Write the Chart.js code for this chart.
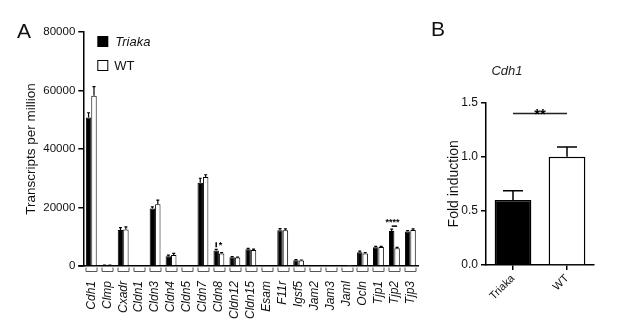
<!DOCTYPE html>
<html>
<head>
<meta charset="utf-8">
<script src="https://cdn.jsdelivr.net/npm/chart.js@4"></script>
<style>
  body { margin: 0; background: #fff; }
  #wrap { position: relative; width: 617px; height: 321px; overflow: hidden; }
  canvas { position: absolute; top: 0; }
  #a { left: 0; }
  #b { left: 420px; }
  .panel { position: absolute; font: 21px "Liberation Sans", Arial, sans-serif; color: #111; line-height: 1; }
</style>
</head>
<body>
<div id="wrap">
  <canvas id="a" width="440" height="321"></canvas>
  <canvas id="b" width="197" height="321"></canvas>
  <div class="panel" style="left:17px;top:20px">A</div>
  <div class="panel" style="left:431px;top:18px">B</div>
</div>
<script>
// panel A: transcripts per million
const CATEGORIES = ['Cdh1', 'Clmp', 'Cxadr', 'Cldn1', 'Cldn3', 'Cldn4', 'Cldn5', 'Cldn7', 'Cldn8', 'Cldn12',
  'Cldn15', 'Esam', 'F11r', 'Igsf5', 'Jam2', 'Jam3', 'Jaml', 'Ocln', 'Tjp1', 'Tjp2', 'Tjp3'];
const TRIAKA_TPM = [50800, 250, 12300, 0, 19700, 3300, 0, 28500, 5300, 3000, 5700, 0, 12200, 2000, 0, 0, 100, 4700, 6400, 12000, 11800];
const TRIAKA_SEM = [1600, 50, 800, 0, 500, 400, 0, 1500, 400, 200, 300, 0, 600, 200, 0, 0, 0, 400, 300, 600, 300];
const WT_TPM = [58200, 300, 12500, 0, 21100, 3800, 0, 30400, 4300, 2900, 5500, 0, 12200, 1900, 0, 0, 100, 4300, 6500, 6100, 12300];
const WT_SEM = [3100, 50, 900, 0, 1400, 500, 0, 800, 300, 150, 300, 0, 500, 150, 0, 0, 0, 300, 200, 300, 400];
const TPM_TICKS = [0, 20000, 40000, 60000, 80000];
const STARS_A = [{ cat: 'Cldn8', text: '*' }, { cat: 'Tjp2', text: '****' }];

// panel B: Cdh1 fold induction
const GROUPS = ['Triaka', 'WT'];
const FOLD = [0.6, 1.0];
const FOLD_SEM = [0.085, 0.09];
const FOLD_TICKS = [0, 0.5, 1.0, 1.5];

const FONT = '"Liberation Sans", Arial, sans-serif';
Chart.defaults.font.family = FONT;
Chart.defaults.color = '#111';

const errorBars = {
  id: 'errorBars',
  afterDatasetsDraw(chart, args, opts) {
    const ctx = chart.ctx, y = chart.scales.y;
    chart.data.datasets.forEach((ds, di) => {
      chart.getDatasetMeta(di).data.forEach((bar, i) => {
        const err = ds.errors[i];
        if (!err) return;
        const top = y.getPixelForValue(ds.data[i] + err);
        ctx.save();
        ctx.strokeStyle = '#000';
        ctx.lineWidth = opts.width;
        ctx.beginPath();
        ctx.moveTo(bar.x, bar.y);
        ctx.lineTo(bar.x, top);
        ctx.moveTo(bar.x - opts.cap, top);
        ctx.lineTo(bar.x + opts.cap, top);
        ctx.stroke();
        ctx.restore();
      });
    });
  }
};

const panelA = {
  id: 'panelA',
  afterDraw(chart) {
    const { ctx, chartArea: area, scales: { x, y } } = chart;
    ctx.save();
    // x axis runs a little past the y axis
    ctx.strokeStyle = '#000';
    ctx.lineWidth = 1.5;
    ctx.beginPath();
    ctx.moveTo(area.left - 5, area.bottom);
    ctx.lineTo(area.left, area.bottom);
    ctx.stroke();
    // bracket marks under each gene
    ctx.strokeStyle = '#555';
    ctx.lineWidth = 1;
    CATEGORIES.forEach((c, i) => {
      const cx = Math.round(x.getPixelForValue(i)) + 0.5;
      ctx.beginPath();
      ctx.moveTo(cx - 5.5, area.bottom + 1.5);
      ctx.lineTo(cx - 5.5, area.bottom + 5.5);
      ctx.lineTo(cx + 5.5, area.bottom + 5.5);
      ctx.lineTo(cx + 5.5, area.bottom + 1.5);
      ctx.stroke();
    });
    // significance
    const m0 = chart.getDatasetMeta(0), m1 = chart.getDatasetMeta(1);
    ctx.fillStyle = '#000';
    ctx.strokeStyle = '#000';
    ctx.lineWidth = 1.5;
    ctx.font = 'bold 9px ' + FONT;
    ctx.textAlign = 'center';
    ctx.textBaseline = 'alphabetic';
    STARS_A.forEach(s => {
      const i = CATEGORIES.indexOf(s.cat);
      const b0 = m0.data[i], b1 = m1.data[i];
      const top = Math.min(y.getPixelForValue(TRIAKA_TPM[i] + TRIAKA_SEM[i]), y.getPixelForValue(WT_TPM[i] + WT_SEM[i]));
      if (s.text.length > 1) {
        const ly = top - 3;
        ctx.beginPath();
        ctx.moveTo(b0.x, ly);
        ctx.lineTo(b1.x, ly);
        ctx.stroke();
        ctx.fillText(s.text, (b0.x + b1.x) / 2 - 2, ly - 1);
      } else {
        ctx.beginPath();
        ctx.moveTo(b0.x, top - 2);
        ctx.lineTo(b0.x, top - 7);
        ctx.stroke();
        ctx.fillText(s.text, b1.x - 1, top - 1);
      }
    });
    // legend
    const lx = area.left + 14, ly = area.top + 4;
    ctx.fillStyle = '#000';
    ctx.fillRect(lx, ly, 11, 11);
    ctx.fillStyle = '#fff';
    ctx.fillRect(lx + 0.5, ly + 24.5, 10, 10);
    ctx.lineWidth = 1;
    ctx.strokeRect(lx + 0.5, ly + 24.5, 10, 10);
    ctx.fillStyle = '#111';
    ctx.textAlign = 'left';
    ctx.textBaseline = 'middle';
    ctx.font = 'italic 13px ' + FONT;
    ctx.fillText('Triaka', lx + 18, ly + 6);
    ctx.font = '13px ' + FONT;
    ctx.fillText('WT', lx + 17, ly + 30);
    ctx.restore();
  }
};

new Chart(document.getElementById('a').getContext('2d'), {
  type: 'bar',
  data: {
    labels: CATEGORIES,
    datasets: [
      { label: 'Triaka', data: TRIAKA_TPM, errors: TRIAKA_SEM, backgroundColor: '#000', borderColor: '#000', borderWidth: 1 },
      { label: 'WT', data: WT_TPM, errors: WT_SEM, backgroundColor: '#fff', borderColor: '#000', borderWidth: 1 }
    ]
  },
  options: {
    responsive: false,
    animation: false,
    layout: { padding: { left: 0, top: 32, right: 10.5, bottom: 0 } },
    datasets: { bar: { categoryPercentage: 0.68, barPercentage: 1 } },
    plugins: {
      legend: { display: false },
      tooltip: { enabled: false },
      errorBars: { width: 1.2, cap: 1.5 }
    },
    scales: {
      x: {
        grid: { display: true, drawOnChartArea: false, drawTicks: false },
        border: { color: '#000', width: 1.5 },
        ticks: { autoSkip: false, minRotation: 90, maxRotation: 90, padding: 15, font: { size: 12, style: 'italic' } },
        afterFit(s) { s.height = 55; }
      },
      y: {
        min: 0,
        max: 80000,
        afterBuildTicks(s) { s.ticks = TPM_TICKS.map(v => ({ value: v })); },
        grid: { drawOnChartArea: false, tickLength: 5, color: '#000', lineWidth: 1.5 },
        border: { color: '#000', width: 1.5 },
        ticks: { padding: 3, font: { size: 11.5 }, callback: v => String(v) },
        title: { display: true, text: 'Transcripts per million', font: { size: 13.5 }, padding: { top: 23, bottom: 0 } },
        afterFit(s) { s.width = 83.3; }
      }
    }
  },
  plugins: [errorBars, panelA]
});

const panelB = {
  id: 'panelB',
  afterDraw(chart) {
    const { ctx, scales: { y } } = chart;
    const bars = chart.getDatasetMeta(0).data;
    const ly = y.getPixelForValue(1.4);
    ctx.save();
    ctx.strokeStyle = '#222';
    ctx.lineWidth = 1.5;
    ctx.beginPath();
    ctx.moveTo(bars[0].x, ly);
    ctx.lineTo(bars[1].x, ly);
    ctx.stroke();
    ctx.fillStyle = '#000';
    ctx.font = 'bold 15px ' + FONT;
    ctx.textAlign = 'center';
    ctx.textBaseline = 'alphabetic';
    ctx.fillText('**', (bars[0].x + bars[1].x) / 2, ly + 6);
    ctx.restore();
  }
};

new Chart(document.getElementById('b').getContext('2d'), {
  type: 'bar',
  data: {
    labels: GROUPS,
    datasets: [{
      label: 'Cdh1',
      data: FOLD,
      errors: FOLD_SEM,
      backgroundColor: ['#000', '#fff'],
      borderColor: '#000',
      borderWidth: 1.5,
      categoryPercentage: 1,
      barPercentage: 0.68
    }]
  },
  options: {
    responsive: false,
    animation: false,
    layout: { padding: { left: 0, top: 0, right: 23, bottom: 0 } },
    plugins: {
      legend: { display: false },
      tooltip: { enabled: false },
      title: { display: true, text: 'Cdh1', color: '#222', font: { size: 13, style: 'italic', weight: 'normal' }, padding: { top: 64, bottom: 23 } },
      errorBars: { width: 1.5, cap: 10 }
    },
    scales: {
      x: {
        grid: { drawOnChartArea: false, offset: false, tickLength: 5, color: '#000', lineWidth: 1.5 },
        border: { color: '#000', width: 1.5 },
        ticks: { minRotation: 45, maxRotation: 45, padding: 2, font: { size: 11 } },
        afterFit(s) { s.height = 56; }
      },
      y: {
        min: 0,
        max: 1.5,
        afterBuildTicks(s) { s.ticks = FOLD_TICKS.map(v => ({ value: v })); },
        grid: { drawOnChartArea: false, tickLength: 5, color: '#000', lineWidth: 1.5 },
        border: { color: '#000', width: 1.5 },
        ticks: { padding: 3, font: { size: 12 }, callback: v => v.toFixed(1) },
        title: { display: true, text: 'Fold induction', font: { size: 14 }, padding: { top: 26, bottom: 0 } },
        afterFit(s) { s.width = 66; }
      }
    }
  },
  plugins: [errorBars, panelB]
});
</script>
</body>
</html>
